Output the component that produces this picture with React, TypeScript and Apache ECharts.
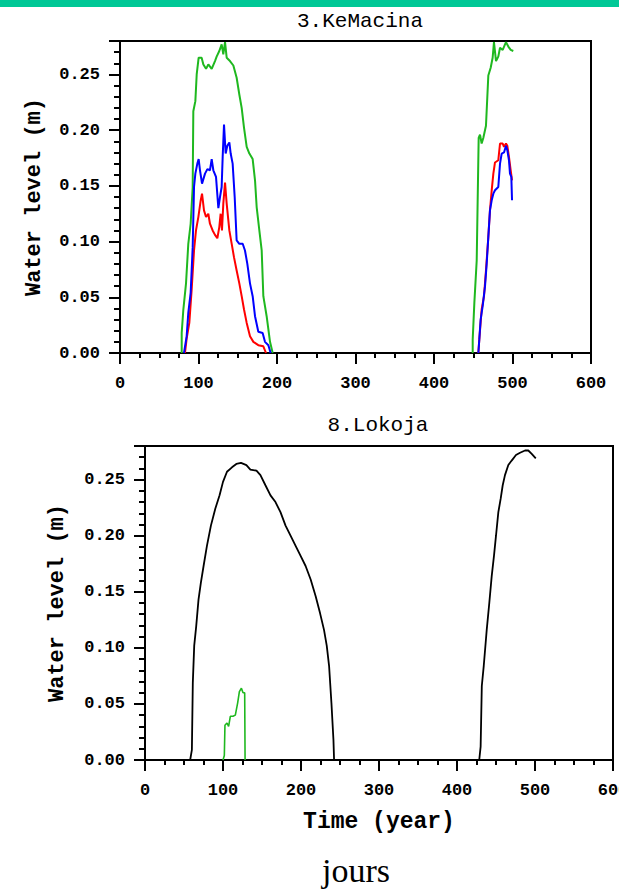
import React, { useEffect, useRef } from "react";
import * as echarts from "echarts";

// ---- 3.KeMacina (top panel) ----
const kmGreenA = [[78.6,0],[78.6,0.018],[80.7,0.039],[84.1,0.0625],[87.0,0.098],[90.0,0.116],[92.6,0.149],[93.4,0.217],[96.0,0.226],[97.7,0.250],[100.2,0.265],[104.0,0.265],[106.2,0.259],[109.6,0.255],[112.5,0.259],[116.8,0.255],[121.0,0.262],[123.1,0.266],[126.5,0.271],[129.5,0.277],[131.6,0.268],[133.8,0.279],[135.9,0.265],[140.1,0.262],[144.4,0.258],[148.6,0.247],[152.0,0.232],[155.0,0.220],[158.0,0.202],[161.4,0.185],[164.8,0.179],[169.0,0.174],[172.0,0.155],[174.1,0.131],[177.5,0.110],[180.5,0.092],[182.6,0.051],[186.8,0.033],[191.1,0.010],[194.5,0]];
const kmGreenB = [[449.3,0],[449.3,0.012],[451.4,0.045],[454.4,0.083],[456.9,0.193],[458.6,0.196],[460.7,0.188],[462.8,0.193],[466.2,0.204],[469.2,0.249],[472.2,0.256],[474.7,0.265],[476.4,0.279],[479.0,0.262],[481.9,0.266],[484.1,0.274],[487.5,0.272],[491.7,0.279],[494.7,0.275],[497.7,0.272],[501,0.271]];
const kmBlueA = [[81.5,0],[84.9,0.015],[87.0,0.036],[90.0,0.054],[92.6,0.095],[94.3,0.149],[96.0,0.161],[98.5,0.170],[100.2,0.174],[101.9,0.164],[104.5,0.152],[108.3,0.161],[111.3,0.165],[114.6,0.164],[116.8,0.174],[118.9,0.164],[122.3,0.158],[125.3,0.130],[127.4,0.140],[129.5,0.149],[130.8,0.176],[132.5,0.205],[134.6,0.179],[136.7,0.186],[139.3,0.189],[141.0,0.179],[143.5,0.170],[146.1,0.140],[148.6,0.101],[152.0,0.098],[156.3,0.098],[159.2,0.092],[162.2,0.080],[165.6,0.0625],[169.0,0.051],[172.0,0.033],[176.2,0.019],[181.7,0.018],[184.7,0.010],[189.0,0.007],[191.9,0]];
const kmBlueB = [[456.5,0],[457.7,0.012],[459.4,0.030],[462.0,0.042],[465.0,0.060],[467.1,0.080],[469.2,0.104],[471.3,0.128],[473.5,0.137],[475.6,0.143],[477.7,0.146],[481.9,0.149],[484.1,0.170],[486.2,0.179],[489.2,0.180],[491.7,0.186],[493.4,0.182],[495.5,0.173],[496.8,0.161],[498.5,0.158],[499.4,0.137]];
const kmRedA = [[82.8,0],[84.9,0.013],[88.3,0.027],[91.3,0.057],[94.3,0.092],[96.8,0.110],[99.8,0.122],[102.8,0.137],[104.5,0.143],[107.0,0.128],[109.6,0.122],[112.5,0.125],[114.6,0.116],[118.0,0.110],[121.0,0.106],[124.0,0.103],[126.5,0.113],[128.2,0.125],[129.9,0.110],[131.6,0.134],[133.8,0.153],[135.9,0.134],[139.3,0.110],[142.3,0.098],[145.2,0.086],[148.6,0.074],[152.0,0.0625],[155.0,0.051],[158.0,0.039],[161.4,0.027],[165.6,0.015],[169.9,0.010],[176.2,0.007],[182.6,0.006],[186.0,0]];
const kmRedB = [[456.5,0],[457.7,0.012],[460.7,0.039],[463.7,0.051],[466.2,0.074],[469.2,0.104],[471.3,0.128],[473.5,0.146],[475.6,0.161],[477.7,0.171],[481.9,0.173],[484.1,0.188],[487.5,0.188],[489.2,0.185],[491.7,0.188],[493.4,0.186],[495.5,0.176],[497.7,0.164],[499.4,0.155]];

// ---- 8.Lokoja (bottom panel) ----
const lkBlackA = [[57.9,0],[60.1,0.009],[61.3,0.069],[63.1,0.102],[65.6,0.119],[68.6,0.143],[71.6,0.158],[75.1,0.173],[79.4,0.191],[84.5,0.209],[90.1,0.224],[95.6,0.236],[100.0,0.248],[105.1,0.257],[111.5,0.261],[117.1,0.264],[123.1,0.265],[130.0,0.263],[135.1,0.259],[142.9,0.258],[148.0,0.254],[154.4,0.245],[160.9,0.236],[167.3,0.230],[173.7,0.221],[180.2,0.209],[186.6,0.200],[193.1,0.191],[199.5,0.182],[205.9,0.173],[212.4,0.161],[218.8,0.146],[224.4,0.131],[229.5,0.116],[233.0,0.102],[236.0,0.084],[239.0,0.051],[241.6,0.018],[242.4,0]];
const lkBlackB = [[428.5,0],[430.3,0.012],[431.8,0.066],[434.3,0.084],[436.8,0.105],[438.1,0.116],[441.4,0.140],[444.5,0.164],[447.4,0.182],[450,0.200],[453,0.221],[456,0.233],[458.6,0.245],[461.5,0.254],[465.8,0.263],[470.1,0.267],[475.6,0.272],[480.8,0.274],[487.2,0.276],[491.4,0.276],[495.8,0.273],[501,0.269]];
const lkGreen = [[100.0,0],[101.7,0.004],[102.5,0.031],[105.1,0.033],[107.2,0.030],[109.4,0.039],[112.8,0.039],[115.8,0.040],[118.8,0.051],[121.0,0.061],[123.6,0.064],[125.7,0.060],[127.8,0.060],[128.3,0]];

const titles = ["3.KeMacina", "8.Lokoja"];
const yName = "Water level (m)";
const xName = "Time (year)";
const footer = "jours";

const MONO = "'Liberation Mono', 'DejaVu Sans Mono', monospace";
const GREEN = "#1fb81f";

function yLabel(v: number) {
  const r = v / 0.05;
  return Math.abs(r - Math.round(r)) < 1e-6 ? v.toFixed(2) : "";
}

function xAxisCfg(gridIndex: number, name?: string) {
  return {
    type: "value",
    gridIndex,
    min: 0,
    max: 600,
    interval: 100,
    name: name || "",
    nameLocation: "middle",
    nameGap: 50,
    nameTextStyle: { fontFamily: MONO, fontWeight: "bold", fontSize: 23, color: "#000" },
    axisLine: { show: true, onZero: false, lineStyle: { color: "#000", width: 2 } },
    axisTick: { show: true, inside: false, length: 11, lineStyle: { color: "#000", width: 2 } },
    minorTick: { show: true, splitNumber: 4, length: 5, lineStyle: { color: "#000", width: 2 } },
    axisLabel: { margin: 22, fontFamily: MONO, fontWeight: "bold", fontSize: 17, color: "#000" },
    splitLine: { show: false },
  };
}

function yAxisCfg(gridIndex: number, gap: number) {
  return {
    type: "value",
    gridIndex,
    min: 0,
    max: 0.28,
    interval: 0.05,
    name: yName,
    nameLocation: "middle",
    nameRotate: 90,
    nameGap: gap,
    nameTextStyle: { fontFamily: MONO, fontWeight: "bold", fontSize: 22, color: "#000" },
    axisLine: { show: true, onZero: false, lineStyle: { color: "#000", width: 2 } },
    axisTick: { show: true, inside: false, length: 11, lineStyle: { color: "#000", width: 2 } },
    minorTick: { show: true, splitNumber: 5, length: 6, lineStyle: { color: "#000", width: 2 } },
    axisLabel: { margin: 20, fontFamily: MONO, fontWeight: "bold", fontSize: 17, color: "#000", formatter: yLabel, showMaxLabel: false },
    splitLine: { show: false },
  };
}

function line(data: number[][], color: string, xi: number, width = 2) {
  return {
    type: "line",
    xAxisIndex: xi,
    yAxisIndex: xi,
    data,
    showSymbol: false,
    symbol: "none",
    lineStyle: { color, width },
    itemStyle: { color },
    clip: true,
    z: 3,
  };
}

export default function App() {
  const ref = useRef<HTMLDivElement>(null);
  useEffect(() => {
    if (!ref.current) return;
    const chart = echarts.init(ref.current, null, { renderer: "svg" });
    chart.setOption({
      animation: false,
      backgroundColor: "#fff",
      title: [
        { text: titles[0], left: 355, top: 6, textAlign: "center", textStyle: { fontFamily: MONO, fontWeight: "normal", fontSize: 21, color: "#000" } },
        { text: titles[1], left: 373, top: 410, textAlign: "center", textStyle: { fontFamily: MONO, fontWeight: "normal", fontSize: 21, color: "#000" } },
      ],
      grid: [
        { left: 120, top: 41, width: 471, height: 312, show: true, borderColor: "#000", borderWidth: 2, backgroundColor: "transparent", outerBoundsMode: "none", containLabel: false },
        { left: 145, top: 446, width: 468, height: 314, show: true, borderColor: "#000", borderWidth: 2, backgroundColor: "transparent", outerBoundsMode: "none", containLabel: false },
      ],
      xAxis: [xAxisCfg(0), xAxisCfg(1, xName)],
      yAxis: [yAxisCfg(0, 75), yAxisCfg(1, 77)],
      series: [
        line(kmGreenA, GREEN, 0),
        line(kmGreenB, GREEN, 0),
        line(kmRedA, "#ff0000", 0),
        line(kmRedB, "#ff0000", 0),
        line(kmBlueA, "#0000ff", 0),
        line(kmBlueB, "#0000ff", 0),
        line(lkBlackA, "#000", 1, 1.8),
        line(lkBlackB, "#000", 1, 1.8),
        line(lkGreen, GREEN, 1, 1.6),
      ],
      graphic: [
        { type: "rect", left: 0, top: 0, shape: { x: 0, y: 0, width: 619, height: 7 }, style: { fill: "#00c896" }, z: 10 },
        { type: "text", left: 322, top: 853, style: { text: footer, font: "34px 'Liberation Serif', 'Times New Roman', serif", fill: "#000" } },
      ],
    });
    return () => chart.dispose();
  }, []);
  return <div ref={ref} style={{ position: "fixed", left: 0, top: 0, width: 619, height: 892 }} />;
}
